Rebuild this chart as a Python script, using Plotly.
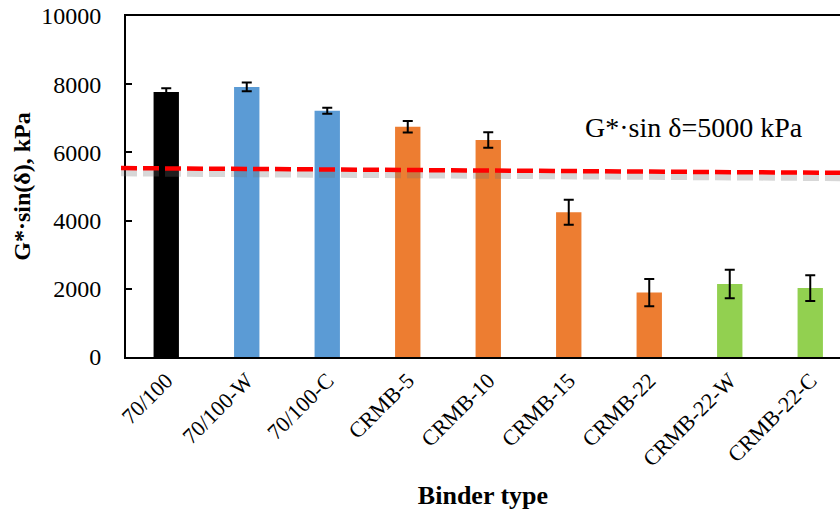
import plotly.graph_objects as go

# Binder types and rutting parameter G*·sin(δ) with standard deviations
binders = ["70/100", "70/100-W", "70/100-C", "CRMB-5", "CRMB-10",
           "CRMB-15", "CRMB-22", "CRMB-22-W", "CRMB-22-C"]
g_sin_delta = [7770, 7920, 7220, 6750, 6365, 4245, 1890, 2140, 2020]
std_dev = [110, 130, 90, 170, 225, 365, 400, 420, 380]
bar_colors = ["#000000", "#5B9BD5", "#5B9BD5", "#ED7D31", "#ED7D31",
              "#ED7D31", "#ED7D31", "#92D050", "#92D050"]

# Hand-drawn criterion line (left / right ends, kPa)
criterion_ends = [5540, 5400]
criterion_text = "G*·sin δ=5000 kPa"

y_ticks = [0, 2000, 4000, 6000, 8000, 10000]
y_tick_text = ["0", "2000", "4000", "6000", "8000", "10000"]

serif = "Liberation Serif, Times New Roman, serif"

fig = go.Figure()
fig.add_trace(go.Bar(
    x=binders,
    y=g_sin_delta,
    marker=dict(color=bar_colors, line=dict(width=0)),
    width=0.315,
    error_y=dict(type="data", array=std_dev, visible=True,
                 color="black", thickness=2, width=5),
    showlegend=False,
))

# criterion line shadow, then the red dashed line
x_left, x_right = -0.007, 1.0
fig.add_shape(type="line", xref="paper", yref="y",
              x0=x_left, x1=x_right,
              y0=criterion_ends[0] - 140, y1=criterion_ends[1] - 140,
              line=dict(color="rgba(110,110,110,0.28)", width=7, dash="16px,6px"))
fig.add_shape(type="line", xref="paper", yref="y",
              x0=x_left, x1=x_right,
              y0=criterion_ends[0], y1=criterion_ends[1],
              line=dict(color="#FF0000", width=4.5, dash="16px,6px"))

fig.add_annotation(text=criterion_text, xref="x", yref="y",
                   x=6.56, y=6720, showarrow=False,
                   font=dict(family=serif, size=28, color="black"))

fig.update_layout(
    width=840, height=512,
    margin=dict(l=126, r=0, t=16, b=155),
    paper_bgcolor="white", plot_bgcolor="white",
    font=dict(family=serif, color="black"),
    bargap=0.685,
)
fig.update_xaxes(
    range=[-0.5, -0.5 + 714 / 80.5],
    showline=True, linecolor="black", linewidth=2, mirror=True,
    ticks="", tickangle=-45,
    tickfont=dict(family=serif, size=22, color="black"),
    title=dict(text="<b>Binder type</b>", standoff=16,
               font=dict(family=serif, size=26, color="black")),
    showgrid=False,
)
fig.update_yaxes(
    range=[0, 10000], tickvals=y_ticks, ticktext=y_tick_text,
    showline=True, linecolor="black", linewidth=2,
    ticks="inside", ticklen=6, tickwidth=1.5, tickcolor="black",
    ticklabelstandoff=18,
    tickfont=dict(family=serif, size=24, color="black"),
    title=dict(text="<b>G*·sin(δ), kPa</b>", standoff=4,
               font=dict(family=serif, size=24, color="black")),
    showgrid=False, zeroline=False,
)

fig.write_html("out.html")
